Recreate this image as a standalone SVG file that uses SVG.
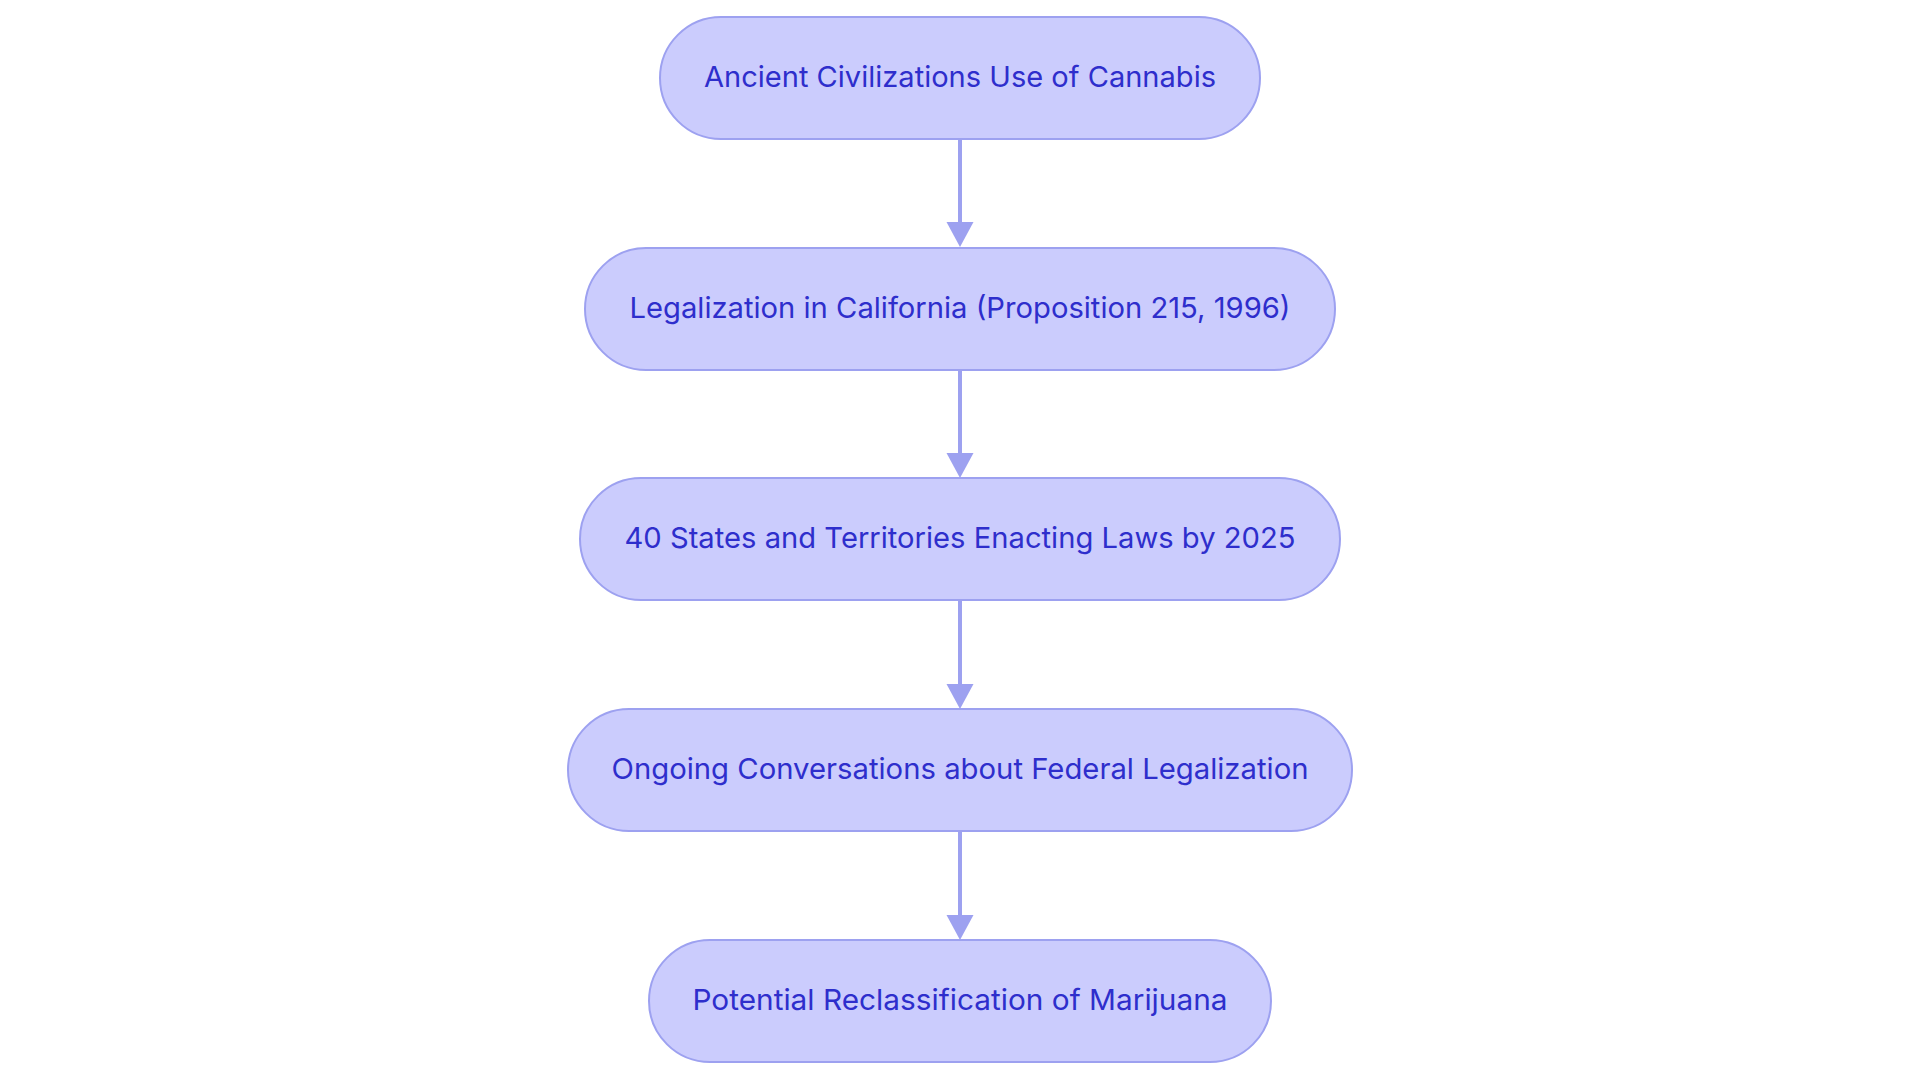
<svg xmlns="http://www.w3.org/2000/svg" width="1920" height="1083" viewBox="0 0 1920 1083">
<style>
.node rect{fill:#cbccfd;stroke:#9da1f0;stroke-width:2}
.node text{font-family:Inter,"Noto Sans",sans-serif;font-size:29px;fill:#2e2ecc;text-anchor:middle}
.edge{stroke:#9da1f0;stroke-width:4;fill:none}
.head{fill:#9da1f0}
</style>
<rect width="1920" height="1083" fill="#ffffff"/>
<g id="connectors">
<path class="edge" d="M960,139 L960,222"/>
<path class="head" d="M946.5,222 L973.5,222 L960,247 Z"/>
<path class="edge" d="M960,370 L960,453"/>
<path class="head" d="M946.5,453 L973.5,453 L960,478 Z"/>
<path class="edge" d="M960,600 L960,684"/>
<path class="head" d="M946.5,684 L973.5,684 L960,709 Z"/>
<path class="edge" d="M960,831 L960,915"/>
<path class="head" d="M946.5,915 L973.5,915 L960,940 Z"/>
</g>
<g id="node1" class="node">
<rect x="660" y="17" width="600" height="122" rx="61" ry="61"/>
<text x="960" y="87" textLength="512" lengthAdjust="spacingAndGlyphs">Ancient Civilizations Use of Cannabis</text>
</g>
<g id="node2" class="node">
<rect x="585" y="248" width="750" height="122" rx="61" ry="61"/>
<text x="960" y="318" textLength="661" lengthAdjust="spacingAndGlyphs">Legalization in California (Proposition 215, 1996)</text>
</g>
<g id="node3" class="node">
<rect x="580" y="478" width="760" height="122" rx="61" ry="61"/>
<text x="960" y="548" textLength="671" lengthAdjust="spacingAndGlyphs">40 States and Territories Enacting Laws by 2025</text>
</g>
<g id="node4" class="node">
<rect x="568" y="709" width="784" height="122" rx="61" ry="61"/>
<text x="960" y="779" textLength="697" lengthAdjust="spacingAndGlyphs">Ongoing Conversations about Federal Legalization</text>
</g>
<g id="node5" class="node">
<rect x="649" y="940" width="622" height="122" rx="61" ry="61"/>
<text x="960" y="1010" textLength="535" lengthAdjust="spacingAndGlyphs">Potential Reclassification of Marijuana</text>
</g>
</svg>
